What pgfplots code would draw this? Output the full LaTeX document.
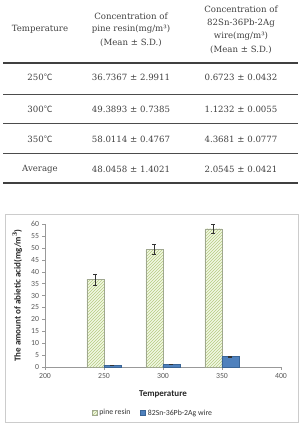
\documentclass[border=0pt]{standalone}
\usepackage{pgfplots}
\pgfplotsset{compat=1.18}
\usepackage{fontspec}
\setmainfont{DejaVu Serif}
\newfontfamily\cjk{Noto Sans CJK KR}
\newfontfamily\carl{Carlito}
\usetikzlibrary{patterns}
\definecolor{hatch}{HTML}{B5CC80}
\definecolor{hatchbg}{HTML}{F2F7E4}
\definecolor{hatchedge}{HTML}{A0A890}
\definecolor{wireblue}{HTML}{4F81BD}
\definecolor{wireedge}{HTML}{3A6596}
\definecolor{tickgray}{HTML}{595959}
\begin{document}
\begin{tikzpicture}[x=1pt,y=1pt]
\useasboundingbox (0,0) rectangle (302,424);
% ---------- table ----------
\begin{scope}[every node/.style={font=\fontsize{8.6}{10}\selectfont, text=black!75, inner sep=0pt}]
\node at (40,395) {Temperature};
\node at (131,408) {Concentration of};
\node at (131,395) {pine resin(mg/m³)};
\node at (131,381) {(Mean ± S.D.)};
\node at (241,415) {Concentration of};
\node at (241,401) {82Sn-36Pb-2Ag};
\node at (241,388) {wire(mg/m³)};
\node at (241,374) {(Mean ± S.D.)};
\draw[line width=2pt, black!75] (3,361) -- (298,361);
\node at (40,347) {250{\cjk ℃}};
\node at (131,347) {36.7367 ± 2.9911};
\node at (241,347) {0.6723 ± 0.0432};
\draw[line width=0.6pt, black!70] (3,330) -- (298,330);
\node at (40,315) {300{\cjk ℃}};
\node at (131,315) {49.3893 ± 0.7385};
\node at (241,315) {1.1232 ± 0.0055};
\draw[line width=0.6pt, black!70] (3,301) -- (298,301);
\node at (40,285) {350{\cjk ℃}};
\node at (131,285) {58.0114 ± 0.4767};
\node at (241,285) {4.3681 ± 0.0777};
\draw[line width=0.6pt, black!70] (3,271) -- (298,271);
\node at (40,255) {Average};
\node at (131,255) {48.0458 ± 1.4021};
\node at (241,255) {2.0545 ± 0.0421};
\draw[line width=2pt, black!75] (3,241) -- (298,241);
\end{scope}
% ---------- chart border ----------
\draw[black!20, line width=0.6pt] (5,2) rectangle (298,210);
% ---------- chart ----------
\begin{axis}[
  at={(45pt,57pt)}, anchor=south west,
  scale only axis, width=236pt, height=143pt,
  xmin=200, xmax=400, ymin=0, ymax=60,
  xtick={200,250,...,400}, ytick={0,5,...,60},
  axis x line*=bottom, axis y line*=left,
  axis line style={black!40},
  tick style={black!40}, major tick length=2.5pt,
  xtick pos=bottom, ytick pos=left, tick align=outside,
  ticklabel style={font=\carl\fontsize{7.8}{8}\selectfont, text=tickgray},
  /pgf/number format/assume math mode=true,
  xlabel={\carl\bfseries Temperature},
  ylabel={\carl\bfseries The amount of abietic acid(mg/m$^{\mathbf 3}$)},
  label style={font=\fontsize{9}{10}\selectfont, text=black!85},
  xlabel style={yshift=-6pt},
  ylabel style={yshift=2pt},
  ybar, bar width=17pt,
  legend style={at={(0.4576,-0.322)}, anchor=center, draw=none, fill=none,
    font=\carl\fontsize{7.8}{8}\selectfont, text=black!80,
    legend columns=2, /tikz/every even column/.append style={column sep=8pt}},
  legend image code/.code={\draw[#1] (0pt,-2.5pt) rectangle (5pt,2.5pt);},
  error bars/error bar style={black!80, line width=0.5pt},
  error bars/error mark options={black!80, line width=0.5pt, mark size=2pt, rotate=90},
]
\addplot[bar shift=-8.5pt, draw=hatchedge, fill=hatchbg,
  postaction={pattern=north east lines, pattern color=hatch},
  error bars/.cd, y dir=both, y explicit]
  coordinates {(250,36.7367) +- (0,2.3) (300,49.3893) +- (0,2.0) (350,58.0114) +- (0,2.0)};
\addplot[bar shift=8.5pt, draw=wireedge, fill=wireblue,
  error bars/.cd, y dir=both, y explicit]
  coordinates {(250,0.6723) +- (0,0.1) (300,1.1232) +- (0,0.1) (350,4.3681) +- (0,0.2)};
\legend{pine resin, 82Sn-36Pb-2Ag wire}
\end{axis}
\end{tikzpicture}
\end{document}
